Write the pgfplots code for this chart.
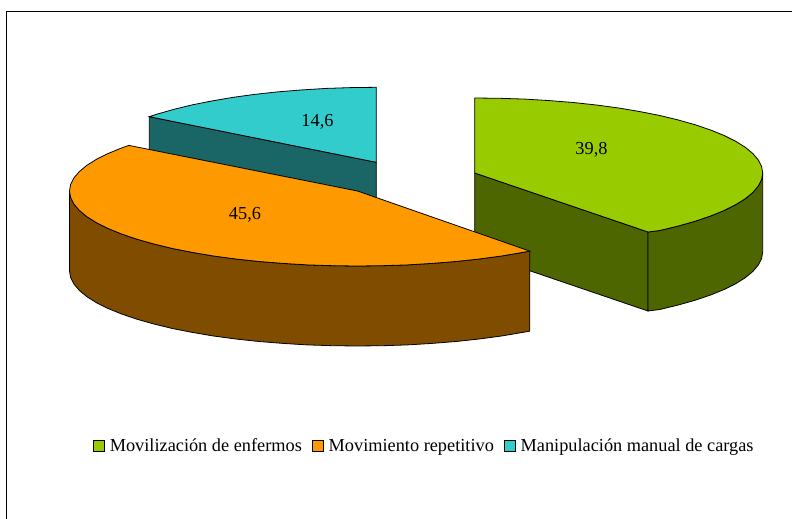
\documentclass[border=0pt]{standalone}
\usepackage{fontspec}
\setmainfont{Liberation Serif}
\usepackage{pgfplots}
\pgfplotsset{compat=1.18}
\definecolor{gtop}{HTML}{99CC00}
\definecolor{gside}{HTML}{4D6600}
\definecolor{otop}{HTML}{FF9900}
\definecolor{oside}{HTML}{804D00}
\definecolor{ttop}{HTML}{33CCCC}
\definecolor{tside}{HTML}{1A6666}
\begin{document}
\begin{tikzpicture}
\begin{axis}[
  scale only axis, width=792pt, height=519pt,
  xmin=0, xmax=792, ymin=0, ymax=519, y dir=reverse,
  axis lines=none, clip=true,
  legend columns=3,
  legend style={at={(axis cs:93,446)},anchor=west,draw=none,fill=none,inner sep=0pt,outer sep=0pt,
    font=\fontsize{18.3}{20}\selectfont,
    /tikz/every odd column/.append style={column sep=3pt},
    /tikz/every even column/.append style={column sep=8pt}},
  legend cell align=left,
  legend image code/.code={\draw[#1,draw=black,line width=0.8pt] (0pt,-5.5pt) rectangle (11pt,5.5pt);},
]
% page background and frame
\addplot[forget plot,draw=none,fill=white] coordinates {(0,0)(792,0)(792,519)(0,519)} --cycle;
\addplot[forget plot,draw=black,line width=1pt] coordinates {(6,519)(6,11.5)(792,11.5)};
% teal slice
\addplot[forget plot,fill=tside,draw=black,line width=0.8pt] coordinates {(149.3,116.7)(376.3,162.3)(376.3,242.3)(149.3,196.7)} --cycle;
\addplot[forget plot,fill=ttop,draw=black,line width=0.8pt] coordinates {(376.3,162.3)(376.3,87.3)(351.4,87.6)(326.6,88.4)(302.3,89.9)(278.5,91.8)(255.4,94.3)(233.3,97.3)(212.3,100.9)(192.5,104.8)(174.1,109.3)(157.2,114.1)(149.3,116.7)} --cycle;
% green slice
\addplot[forget plot,fill=gside,draw=black,line width=0.8pt] coordinates {(474.7,173)(648,232)(648,311)(474.7,252)} --cycle;
\addplot[forget plot,fill=gside,draw=black,line width=0.8pt] coordinates {(762.7,173)(761.6,179.5)(758.3,186)(752.9,192.4)(745.3,198.7)(735.7,204.7)(724.1,210.5)(710.6,216)(695.3,221.2)(678.3,226)(659.8,230.5)(648,232)(648,311)(659.8,309.5)(678.3,305)(695.3,300.2)(710.6,295)(724.1,289.5)(735.7,283.7)(745.3,277.7)(752.9,271.4)(758.3,265)(761.6,258.5)(762.7,252)} --cycle;
\addplot[forget plot,fill=gtop,draw=black,line width=0.8pt] coordinates {(474.7,173)(474.7,98)(499.8,98.3)(524.7,99.1)(549.2,100.6)(573.2,102.5)(596.4,105)(618.7,108)(639.9,111.6)(659.8,115.5)(678.3,120)(695.3,124.8)(710.6,130)(724.1,135.5)(735.7,141.3)(745.3,147.3)(752.9,153.6)(758.3,160)(761.6,166.5)(762.7,173)(761.6,179.5)(758.3,186)(752.9,192.4)(745.3,198.7)(735.7,204.7)(724.1,210.5)(710.6,216)(695.3,221.2)(678.3,226)(659.8,230.5)(648,232)} --cycle;
% orange slice
\addplot[forget plot,fill=oside,draw=black,line width=0.8pt] coordinates {(529.8,251.1)(522.7,252.4)(501.5,256)(479.2,259)(456,261.5)(432,263.4)(407.5,264.9)(382.6,265.7)(357.5,266)(332.4,265.7)(307.5,264.9)(283,263.4)(259,261.5)(235.8,259)(213.5,256)(192.3,252.4)(172.4,248.5)(153.9,244)(136.9,239.2)(121.6,234)(108.1,228.5)(96.5,222.7)(86.9,216.7)(79.3,210.4)(73.9,204)(70.6,197.5)(69.5,191)(69.5,271)(70.6,277.5)(73.9,284)(79.3,290.4)(86.9,296.7)(96.5,302.7)(108.1,308.5)(121.6,314)(136.9,319.2)(153.9,324)(172.4,328.5)(192.3,332.4)(213.5,336)(235.8,339)(259,341.5)(283,343.4)(307.5,344.9)(332.4,345.7)(357.5,346)(382.6,345.7)(407.5,344.9)(432,343.4)(456,341.5)(479.2,339)(501.5,336)(522.7,332.4)(529.8,331.1)} --cycle;
\addplot[forget plot,fill=otop,draw=black,line width=0.8pt] coordinates {(357.5,191)(529.8,251.1)(522.7,252.4)(501.5,256)(479.2,259)(456,261.5)(432,263.4)(407.5,264.9)(382.6,265.7)(357.5,266)(332.4,265.7)(307.5,264.9)(283,263.4)(259,261.5)(235.8,259)(213.5,256)(192.3,252.4)(172.4,248.5)(153.9,244)(136.9,239.2)(121.6,234)(108.1,228.5)(96.5,222.7)(86.9,216.7)(79.3,210.4)(73.9,204)(70.6,197.5)(69.5,191)(70.6,184.5)(73.9,178)(79.3,171.6)(86.9,165.3)(96.5,159.3)(108.1,153.5)(121.6,148)(128.8,145.4)} --cycle;
% legend entries
\addplot[fill=gtop,draw=none] coordinates {(0,-10)(0,-10)};
\addlegendentry{Movilización de enfermos}
\addplot[fill=otop,draw=none] coordinates {(0,-10)(0,-10)};
\addlegendentry{Movimiento repetitivo}
\addplot[fill=ttop,draw=none] coordinates {(0,-10)(0,-10)};
\addlegendentry{Manipulación manual de cargas}
% data labels
\node[font=\fontsize{18.3}{20}\selectfont] at (axis cs:591.5,149.5) {39,8};
\node[font=\fontsize{18.3}{20}\selectfont] at (axis cs:245,215) {45,6};
\node[font=\fontsize{18.3}{20}\selectfont] at (axis cs:317.5,122) {14,6};
\end{axis}
\end{tikzpicture}
\end{document}
